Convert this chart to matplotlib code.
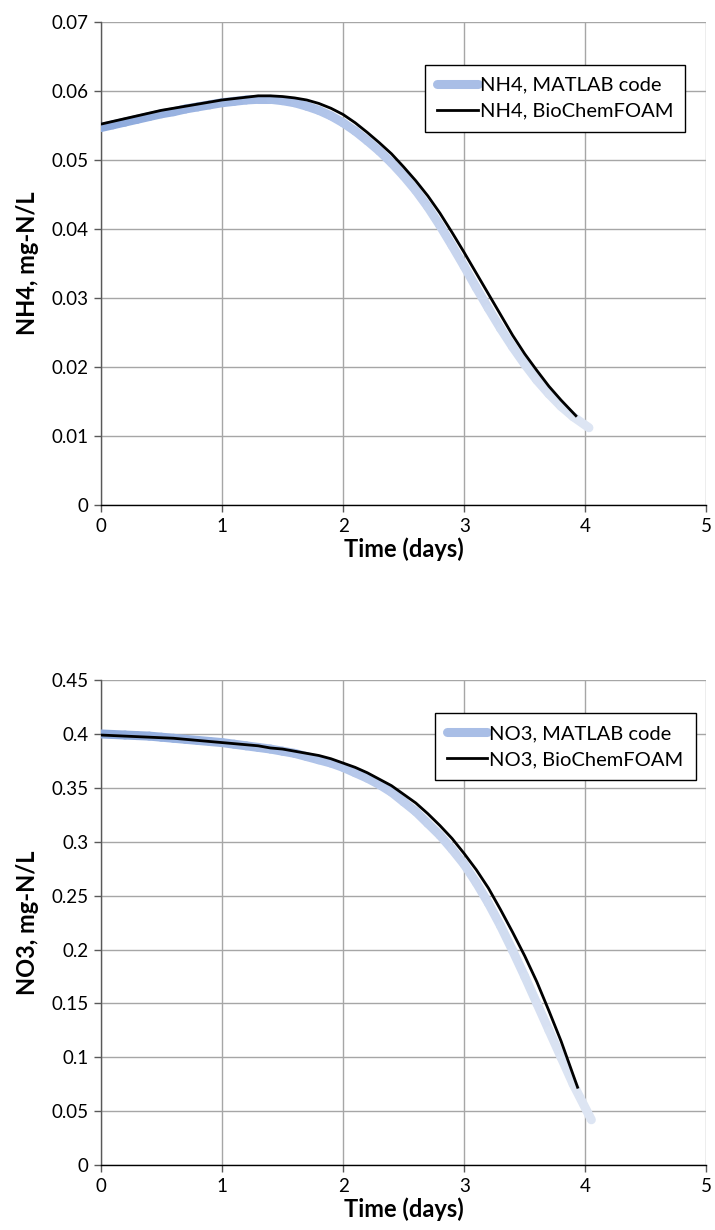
import numpy as np
import matplotlib
matplotlib.use("Agg")
import matplotlib.pyplot as plt
from matplotlib.collections import LineCollection
from matplotlib.colors import LinearSegmentedColormap
from matplotlib.lines import Line2D

plt.rcParams['font.family'] = ['Lato', 'DejaVu Sans']

# ---- Data ----
nh4_foam_t = [0.0, 0.1, 0.2, 0.3, 0.4, 0.5, 0.6, 0.7, 0.8, 0.9, 1.0, 1.1, 1.2, 1.3, 1.4,
              1.5, 1.6, 1.7, 1.8, 1.9, 2.0, 2.1, 2.2, 2.3, 2.4, 2.5, 2.6, 2.7, 2.8, 2.9,
              3.0, 3.1, 3.2, 3.3, 3.4, 3.5, 3.6, 3.7, 3.8, 3.93]
nh4_foam = [0.0552, 0.0556, 0.0560, 0.0564, 0.0568, 0.0572, 0.0575, 0.0578, 0.0581, 0.0584,
            0.0587, 0.0589, 0.0591, 0.0593, 0.0593, 0.0592, 0.0590, 0.0587, 0.0582, 0.0575,
            0.0566, 0.0554, 0.0540, 0.0525, 0.0509, 0.0490, 0.0470, 0.0448, 0.0423, 0.0395,
            0.0366, 0.0336, 0.0306, 0.0276, 0.0246, 0.0219, 0.0195, 0.0172, 0.0152, 0.0128]

nh4_matlab_t = [0.0, 0.1, 0.2, 0.3, 0.4, 0.5, 0.6, 0.7, 0.8, 0.9, 1.0, 1.1, 1.2, 1.3, 1.4,
                1.5, 1.6, 1.7, 1.8, 1.9, 2.0, 2.1, 2.2, 2.3, 2.4, 2.5, 2.6, 2.7, 2.8, 2.9,
                3.0, 3.1, 3.2, 3.3, 3.4, 3.5, 3.6, 3.7, 3.8, 3.9, 4.03]
nh4_matlab = [0.0547, 0.0551, 0.0555, 0.0559, 0.0563, 0.0567, 0.0570, 0.0574, 0.0577, 0.0580,
              0.0583, 0.0585, 0.0587, 0.0588, 0.0588, 0.0586, 0.0583, 0.0578, 0.0572, 0.0564,
              0.0554, 0.0542, 0.0528, 0.0513, 0.0496, 0.0477, 0.0456, 0.0432, 0.0405, 0.0376,
              0.0346, 0.0315, 0.0285, 0.0256, 0.0229, 0.0204, 0.0181, 0.0161, 0.0143, 0.0128,
              0.0112]

no3_foam_t = [0.0, 0.1, 0.2, 0.3, 0.4, 0.5, 0.6, 0.7, 0.8, 0.9, 1.0, 1.1, 1.2, 1.3, 1.4,
              1.5, 1.6, 1.7, 1.8, 1.9, 2.0, 2.1, 2.2, 2.3, 2.4, 2.5, 2.6, 2.7, 2.8, 2.9,
              3.0, 3.1, 3.2, 3.3, 3.4, 3.5, 3.6, 3.7, 3.8, 3.94]
no3_foam = [0.399, 0.3985, 0.398, 0.3975, 0.397, 0.3965, 0.396, 0.395, 0.394, 0.393,
            0.392, 0.391, 0.390, 0.389, 0.387, 0.386, 0.384, 0.382, 0.380, 0.377,
            0.373, 0.369, 0.364, 0.358, 0.352, 0.344, 0.336, 0.326, 0.315, 0.303,
            0.289, 0.274, 0.257, 0.237, 0.216, 0.194, 0.170, 0.143, 0.115, 0.071]

no3_matlab_t = [0.0, 0.1, 0.2, 0.3, 0.4, 0.5, 0.6, 0.7, 0.8, 0.9, 1.0, 1.1, 1.2, 1.3, 1.4,
                1.5, 1.6, 1.7, 1.8, 1.9, 2.0, 2.1, 2.2, 2.3, 2.4, 2.5, 2.6, 2.7, 2.8, 2.9,
                3.0, 3.1, 3.2, 3.3, 3.4, 3.5, 3.6, 3.7, 3.8, 3.9, 4.05]
no3_matlab = [0.400, 0.3995, 0.399, 0.3985, 0.398, 0.397, 0.396, 0.395, 0.394, 0.393,
              0.392, 0.3905, 0.389, 0.3875, 0.386, 0.384, 0.382, 0.379, 0.376, 0.373,
              0.369, 0.364, 0.359, 0.353, 0.346, 0.337, 0.328, 0.317, 0.306, 0.293,
              0.279, 0.262, 0.243, 0.222, 0.199, 0.175, 0.150, 0.125, 0.100, 0.075, 0.042]

x_ticks = [0, 1, 2, 3, 4, 5]
nh4_ticks = [0, 0.01, 0.02, 0.03, 0.04, 0.05, 0.06, 0.07]
nh4_ticklabels = ['0', '0.01', '0.02', '0.03', '0.04', '0.05', '0.06', '0.07']
no3_ticks = [0, 0.05, 0.1, 0.15, 0.2, 0.25, 0.3, 0.35, 0.4, 0.45]
no3_ticklabels = ['0', '0.05', '0.1', '0.15', '0.2', '0.25', '0.3', '0.35', '0.4', '0.45']

grad = LinearSegmentedColormap.from_list('g', ['#8CA9DC', '#B3C6EA', '#DDE5F3'])


def gradient_line(ax, x, y, lw):
    x = np.asarray(x); y = np.asarray(y)
    pts = np.column_stack([x, y]).reshape(-1, 1, 2)
    segs = np.concatenate([pts[:-1], pts[1:]], axis=1)
    frac = np.linspace(0, 1, len(segs))
    lc = LineCollection(segs, colors=grad(frac), linewidths=lw, capstyle='round',
                        joinstyle='round', zorder=3)
    ax.add_collection(lc)


def setup(ax, yticks, ylabels, ymax, ylabel, mt, my, ft, fy, name, leg_anchor):
    gradient_line(ax, mt, my, 6.5)
    ax.plot(ft, fy, color='black', lw=2.0, zorder=4, solid_capstyle='butt',
            solid_joinstyle='round')
    ax.set_xlim(0, 5)
    ax.set_ylim(0, ymax)
    ax.set_xticks(x_ticks)
    ax.set_xticklabels([str(t) for t in x_ticks], fontsize=13.5)
    ax.set_yticks(yticks)
    ax.set_yticklabels(ylabels, fontsize=13.5)
    ax.grid(True, color='#a6a6a6', lw=1.0, zorder=0)
    ax.set_axisbelow(True)
    for s in ['top', 'right']:
        ax.spines[s].set_visible(False)
    ax.spines['left'].set_color('#595959')
    ax.spines['bottom'].set_color('black')
    ax.spines['left'].set_linewidth(1.0)
    ax.spines['bottom'].set_linewidth(1.0)
    ax.tick_params(direction='out', length=5, width=1, color='#595959', pad=4)
    ax.set_xlabel('Time (days)', fontsize=17, fontweight='bold', labelpad=2)
    ax.set_ylabel(ylabel, fontsize=17, fontweight='bold', labelpad=9)
    handles = [Line2D([], [], color='#A9BEE6', lw=6.5, solid_capstyle='round'),
               Line2D([], [], color='black', lw=2.0)]
    leg = ax.legend(handles, [name + ', MATLAB code', name + ', BioChemFOAM'],
                    loc='upper right', bbox_to_anchor=leg_anchor, fontsize=14.5,
                    frameon=True, fancybox=False, framealpha=1, edgecolor='black',
                    handlelength=2.0, handletextpad=0.1, borderpad=0.6,
                    labelspacing=0.45, borderaxespad=0)
    leg.get_frame().set_linewidth(1.0)


fig = plt.figure(figsize=(7.15, 12.3), dpi=100)
ax1 = fig.add_axes([0.141, 0.5894, 0.847, 0.3927])
ax2 = fig.add_axes([0.141, 0.0528, 0.847, 0.3943])

setup(ax1, nh4_ticks, nh4_ticklabels, 0.07, 'NH4, mg-N/L',
      nh4_matlab_t, nh4_matlab, nh4_foam_t, nh4_foam, 'NH4', (0.965, 0.912))
setup(ax2, no3_ticks, no3_ticklabels, 0.45, 'NO3, mg-N/L',
      no3_matlab_t, no3_matlab, no3_foam_t, no3_foam, 'NO3', (0.982, 0.932))

fig.savefig('out.png', dpi=100)
